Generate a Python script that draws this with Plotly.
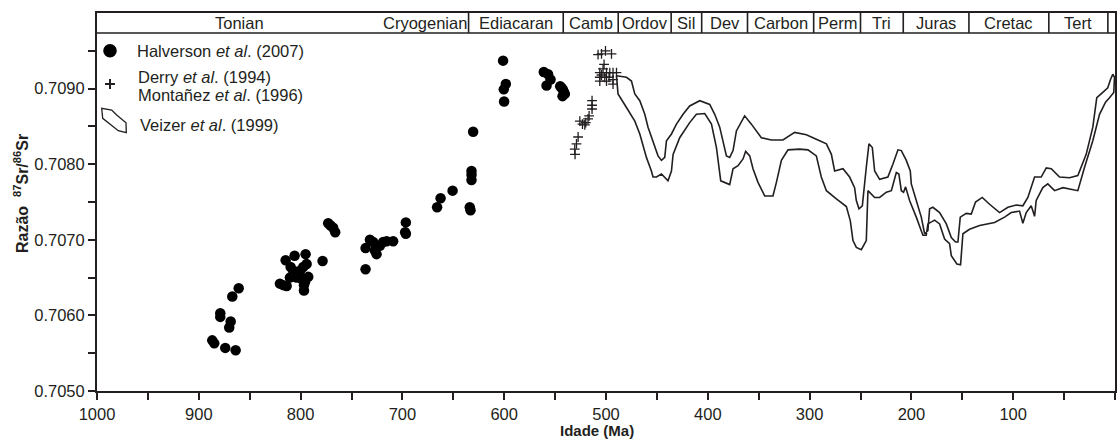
import plotly.graph_objects as go

# ---------------- data ----------------
halverson_age = [886.8, 884.8, 874.0, 863.8, 878.9, 878.9, 868.7, 870.1, 867.1, 860.8,
                 820.3, 817.0, 813.7, 814.7, 805.9, 795.1, 809.8, 807.2, 803.9, 800.6,
                 797.4, 794.1, 810.5, 803.9, 799.0, 795.7, 796.7, 796.7, 792.5, 778.4,
                 772.9, 770.5, 768.0, 766.0, 736.2, 736.2, 731.9, 728.7, 727.0, 725.4,
                 722.1, 718.9, 715.5, 709.1, 696.6, 697.3, 696.6, 665.9, 662.5, 650.7,
                 632.1, 632.1, 632.1, 633.8, 633.1, 630.5, 601.1, 598.4, 600.4, 600.1,
                 561.1, 556.9, 554.5, 558.4, 543.7, 541.5, 542.7, 542.4, 540.4, 545.0]
halverson_sr = [0.70567, 0.70563, 0.70557, 0.70554, 0.70603, 0.70598, 0.70592, 0.70584, 0.70625, 0.70636,
                0.70642, 0.70640, 0.70639, 0.70673, 0.70679, 0.70681, 0.70664, 0.70659, 0.70655, 0.70659,
                0.70664, 0.70668, 0.70650, 0.70650, 0.70648, 0.70644, 0.70640, 0.70633, 0.70651, 0.70672,
                0.70722, 0.70719, 0.70716, 0.70710, 0.70689, 0.70661, 0.70700, 0.70697, 0.70686, 0.70681,
                0.70692, 0.70697, 0.70698, 0.70698, 0.70723, 0.70710, 0.70708, 0.70743, 0.70755, 0.70765,
                0.70791, 0.70786, 0.70779, 0.70743, 0.70739, 0.70843, 0.70937, 0.70906, 0.70899, 0.70883,
                0.70922, 0.70919, 0.70912, 0.70904, 0.70901, 0.70896, 0.70890, 0.70899, 0.70893, 0.70903]

derry_age = [507.8, 504.4, 500.5, 494.6, 501.9, 502.9, 506.1, 499.5, 506.1, 501.2,
             496.3, 493.1, 489.7, 506.1, 499.5, 493.1, 493.1, 504.4, 497.0,
             513.7, 513.7, 513.7, 516.6, 517.6, 525.7, 523.1, 520.8, 519.9,
             527.4, 529.0, 530.7, 530.4]
derry_sr = [0.70945, 0.70946, 0.70950, 0.70946, 0.70932, 0.70926, 0.70921, 0.70921, 0.70915, 0.70915,
            0.70921, 0.70921, 0.70921, 0.70910, 0.70910, 0.70912, 0.70906, 0.70918, 0.70915,
            0.70884, 0.70878, 0.70873, 0.70864, 0.70860, 0.70857, 0.70853, 0.70852, 0.70855,
            0.70836, 0.70827, 0.70820, 0.70813]

# Veizer et al. (1999) envelope: upper edge (old -> young), lower edge (young -> old)
veizer_upper_age = [489.7, 479.9, 475.0, 471.7, 466.8, 461.9, 458.7, 453.8, 448.9, 445.5,
                    442.3, 440.6, 435.7, 430.8, 424.3, 417.8, 407.9, 398.1, 393.2, 388.3,
                    385.1, 381.7, 378.5, 375.2, 371.9, 363.8, 357.2, 347.4, 337.5, 326.2,
                    314.7, 303.2, 293.4, 283.5, 278.6, 275.4, 267.2, 260.7, 255.8, 254.1,
                    251.5, 248.2, 244.3, 241.7, 238.4, 236.1, 231.2, 223.1, 218.2, 213.2,
                    209.9, 205.0, 201.1, 200.1, 195.2, 190.3, 187.0, 183.8, 182.1, 178.9,
                    172.3, 165.7, 160.8, 156.6, 154.3, 152.0, 146.1, 141.2, 137.0, 130.4,
                    123.2, 113.4, 105.2, 97.0, 90.5, 85.6, 79.0, 72.5, 67.5, 62.6,
                    54.5, 44.7, 36.5, 28.3, 21.8, 17.9, 12.0, 7.1, 4.4, 2.2, 0.5]
veizer_upper_sr = [0.70917, 0.70915, 0.70910, 0.70893, 0.70884, 0.70866, 0.70849, 0.70831, 0.70811, 0.70805,
                   0.70809, 0.70831, 0.70840, 0.70853, 0.70866, 0.70877, 0.70884, 0.70879, 0.70866, 0.70849,
                   0.70831, 0.70811, 0.70809, 0.70818, 0.70844, 0.70864, 0.70853, 0.70835, 0.70832, 0.70832,
                   0.70842, 0.70839, 0.70833, 0.70827, 0.70813, 0.70791, 0.70794, 0.70783, 0.70769, 0.70752,
                   0.70741, 0.70745, 0.70796, 0.70827, 0.70822, 0.70791, 0.70780, 0.70783, 0.70800, 0.70819,
                   0.70818, 0.70805, 0.70791, 0.70774, 0.70752, 0.70730, 0.70708, 0.70712, 0.70741, 0.70743,
                   0.70736, 0.70721, 0.70703, 0.70697, 0.70697, 0.70730, 0.70735, 0.70734, 0.70750, 0.70756,
                   0.70747, 0.70736, 0.70743, 0.70746, 0.70745, 0.70756, 0.70783, 0.70783, 0.70795, 0.70794,
                   0.70783, 0.70782, 0.70785, 0.70813, 0.70849, 0.70888, 0.70895, 0.70901, 0.70912, 0.70919, 0.70915]
veizer_lower_age = [1.2, 5.4, 9.3, 15.2, 21.8, 29.9, 36.5, 51.2, 59.4, 66.0,
                    70.9, 77.4, 79.0, 82.3, 87.2, 90.5, 93.8, 101.9, 108.5, 118.3,
                    133.0, 142.9, 149.4, 151.7, 155.3, 160.8, 162.5, 167.4, 172.3, 177.2,
                    183.8, 185.4, 188.7, 195.2, 201.8, 205.7, 207.7, 209.9, 212.3, 214.8,
                    219.7, 224.6, 231.2, 236.1, 242.7, 244.3, 249.2, 254.1, 257.4, 260.0,
                    263.9, 273.7, 283.5, 288.5, 293.4, 301.6, 309.8, 321.2, 327.7, 332.6,
                    336.0, 344.1, 350.7, 355.6, 358.8, 362.8, 365.4, 370.3, 375.2, 378.5,
                    383.4, 387.3, 391.5, 396.4, 403.0, 411.2, 417.8, 427.6, 434.1, 435.7,
                    439.1, 445.5, 450.4, 453.8, 455.4, 460.3, 466.8, 471.7, 479.9, 488.2, 489.7]
veizer_lower_sr = [0.70895, 0.70888, 0.70882, 0.70866, 0.70831, 0.70796, 0.70765, 0.70769, 0.70765, 0.70774,
                   0.70769, 0.70752, 0.70731, 0.70745, 0.70736, 0.70722, 0.70738, 0.70736, 0.70730, 0.70723,
                   0.70719, 0.70714, 0.70708, 0.70667, 0.70668, 0.70679, 0.70695, 0.70701, 0.70721, 0.70726,
                   0.70721, 0.70706, 0.70706, 0.70730, 0.70752, 0.70770, 0.70763, 0.70765, 0.70787, 0.70789,
                   0.70765, 0.70763, 0.70756, 0.70756, 0.70765, 0.70699, 0.70687, 0.70690, 0.70699, 0.70725,
                   0.70744, 0.70754, 0.70765, 0.70783, 0.70811, 0.70819, 0.70820, 0.70819, 0.70805, 0.70776,
                   0.70758, 0.70758, 0.70776, 0.70794, 0.70811, 0.70817, 0.70807, 0.70798, 0.70794, 0.70773,
                   0.70776, 0.70778, 0.70822, 0.70853, 0.70867, 0.70866, 0.70855, 0.70835, 0.70813, 0.70791,
                   0.70778, 0.70787, 0.70783, 0.70783, 0.70791, 0.70809, 0.70840, 0.70857, 0.70875, 0.70893, 0.70917]

# geological time-scale header
period_names = ["Tonian", "Cryogenian", "Ediacaran", "Camb", "Ordov", "Sil", "Dev",
                "Carbon", "Perm", "Tri", "Juras", "Cretac", "Tert"]
period_older = [1000, 720, 635, 542, 488, 436, 406, 361, 296, 250, 208, 143.5, 65]
period_younger = [720, 635, 542, 488, 436, 406, 361, 296, 250, 208, 143.5, 65, 7]
hidden_boundaries = [720]

x_tickvals = [1000, 950, 900, 850, 800, 750, 700, 650, 600, 550, 500, 450, 400, 350,
              300, 250, 200, 150, 100, 50, 0]
x_ticktext = ["1000", "", "900", "", "800", "", "700", "", "600", "", "500", "", "400", "",
              "300", "", "200", "", "100", "", "0"]
y_tickvals = [0.7050, 0.7055, 0.7060, 0.7065, 0.7070, 0.7075, 0.7080, 0.7085, 0.7090, 0.7095]
y_ticktext = ["0.7050", "", "0.7060", "", "0.7070", "", "0.7080", "", "0.7090", ""]

x_title = "Idade (Ma)"
y_title = "Razão\u00a0\u00a0<sup>87</sup>Sr/<sup>86</sup>Sr"

# ---------------- figure ----------------
W, H = 1119, 439
ML, MR, MT, MB = 97, 4, 13, 48
PW, PH = W - ML - MR, H - MT - MB
Y_TOP = 0.7100
Y_HEAD = 0.709735
INK = "#231f20"
FONT = "Liberation Sans, Arial, sans-serif"


def fx(px):
    return (px - ML) / PW


def fy(py):
    return (H - MB - py) / PH


fig = go.Figure()

veizer_x = veizer_upper_age + veizer_lower_age
veizer_y = veizer_upper_sr + veizer_lower_sr
fig.add_trace(go.Scatter(x=veizer_x, y=veizer_y, mode="lines",
                         line=dict(color=INK, width=1.6), hoverinfo="skip",
                         showlegend=False))
fig.add_trace(go.Scatter(x=halverson_age, y=halverson_sr, mode="markers",
                         marker=dict(color="black", size=10.5, line=dict(width=0)),
                         showlegend=False))
fig.add_trace(go.Scatter(x=derry_age, y=derry_sr, mode="markers",
                         marker=dict(symbol="cross-thin", color=INK, size=7,
                                     line=dict(color=INK, width=1.3)),
                         showlegend=False))

shapes = []
annotations = []

# header band
shapes.append(dict(type="line", xref="paper", yref="y", x0=0, x1=1, y0=Y_HEAD, y1=Y_HEAD,
                   line=dict(color=INK, width=1.6)))
for older, younger, name in zip(period_older, period_younger, period_names):
    if younger not in hidden_boundaries:
        shapes.append(dict(type="line", xref="x", yref="y", x0=younger, x1=younger,
                           y0=Y_HEAD, y1=Y_TOP, line=dict(color=INK, width=1.6)))
    annotations.append(dict(x=(older + younger) / 2, y=(Y_HEAD + Y_TOP) / 2, xref="x", yref="y",
                            text=name, showarrow=False, xanchor="center", yanchor="middle",
                            font=dict(family=FONT, size=16.5, color=INK)))

# manual legend
r = 6.8
shapes.append(dict(type="circle", xref="paper", yref="paper",
                   x0=fx(110 - r), x1=fx(110 + r), y0=fy(50.7 + r), y1=fy(50.7 - r),
                   fillcolor="black", line=dict(width=0)))
cx, cy, c = 110, 84, 5
shapes.append(dict(type="line", xref="paper", yref="paper", x0=fx(cx - c), x1=fx(cx + c),
                   y0=fy(cy), y1=fy(cy), line=dict(color=INK, width=2)))
shapes.append(dict(type="line", xref="paper", yref="paper", x0=fx(cx), x1=fx(cx),
                   y0=fy(cy - c), y1=fy(cy + c), line=dict(color=INK, width=2)))
icon = [(101.7, 108.3), (102.7, 118.3), (118.3, 130.7), (126.3, 132.7), (126.0, 122.7),
        (116.7, 115.0), (111.7, 110.0)]
path = "M " + " L ".join(f"{fx(a):.5f},{fy(b):.5f}" for a, b in icon) + " Z"
shapes.append(dict(type="path", xref="paper", yref="paper", path=path,
                   line=dict(color=INK, width=1.3)))

legend_items = [("Halverson <i>et al</i>. (2007)", 135, 50.7),
                ("Derry <i>et al</i>. (1994)", 135.5, 76.7),
                ("Montañez <i>et al</i>. (1996)", 135.5, 95.0),
                ("Veizer <i>et al</i>. (1999)", 138, 125.0)]
for txt, lx, ly in legend_items:
    annotations.append(dict(x=fx(lx), y=fy(ly), xref="paper", yref="paper", text=txt,
                            showarrow=False, xanchor="left", yanchor="middle",
                            font=dict(family=FONT, size=16.5, color=INK)))

# axis titles (placed manually)
annotations.append(dict(x=fx(597), y=fy(430), xref="paper", yref="paper",
                        text=f"<b>{x_title}</b>", showarrow=False,
                        xanchor="center", yanchor="middle",
                        font=dict(family=FONT, size=15, color=INK)))
annotations.append(dict(x=fx(21), y=fy(194), xref="paper", yref="paper",
                        text=f"<b>{y_title}</b>", showarrow=False, textangle=-90,
                        xanchor="center", yanchor="middle",
                        font=dict(family=FONT, size=16, color=INK)))

fig.update_layout(
    width=W, height=H,
    margin=dict(l=ML, r=MR, t=MT, b=MB, pad=0, autoexpand=False),
    paper_bgcolor="white", plot_bgcolor="white",
    font=dict(family=FONT, size=16.5, color=INK),
    shapes=shapes, annotations=annotations,
    showlegend=False,
)
fig.update_xaxes(range=[1000, 0], showgrid=False, zeroline=False, automargin=False,
                 showline=True, linecolor=INK, linewidth=2, mirror=True,
                 ticks="outside", ticklen=7, tickwidth=2, tickcolor=INK,
                 tickmode="array", tickvals=x_tickvals, ticktext=x_ticktext,
                 tickfont=dict(family=FONT, size=16.5, color=INK))
fig.update_yaxes(range=[0.7050, Y_TOP], showgrid=False, zeroline=False, automargin=False,
                 showline=True, linecolor=INK, linewidth=2, mirror=True,
                 ticks="outside", ticklen=7, tickwidth=2, tickcolor=INK,
                 tickmode="array", tickvals=y_tickvals, ticktext=y_ticktext,
                 tickfont=dict(family=FONT, size=16.5, color=INK))

# remove the default page margin so the figure sits at the window's top-left corner
fig.write_html("out.html", config={"displayModeBar": False},
               post_script="document.body.style.margin='0';document.body.style.overflow='hidden';")
